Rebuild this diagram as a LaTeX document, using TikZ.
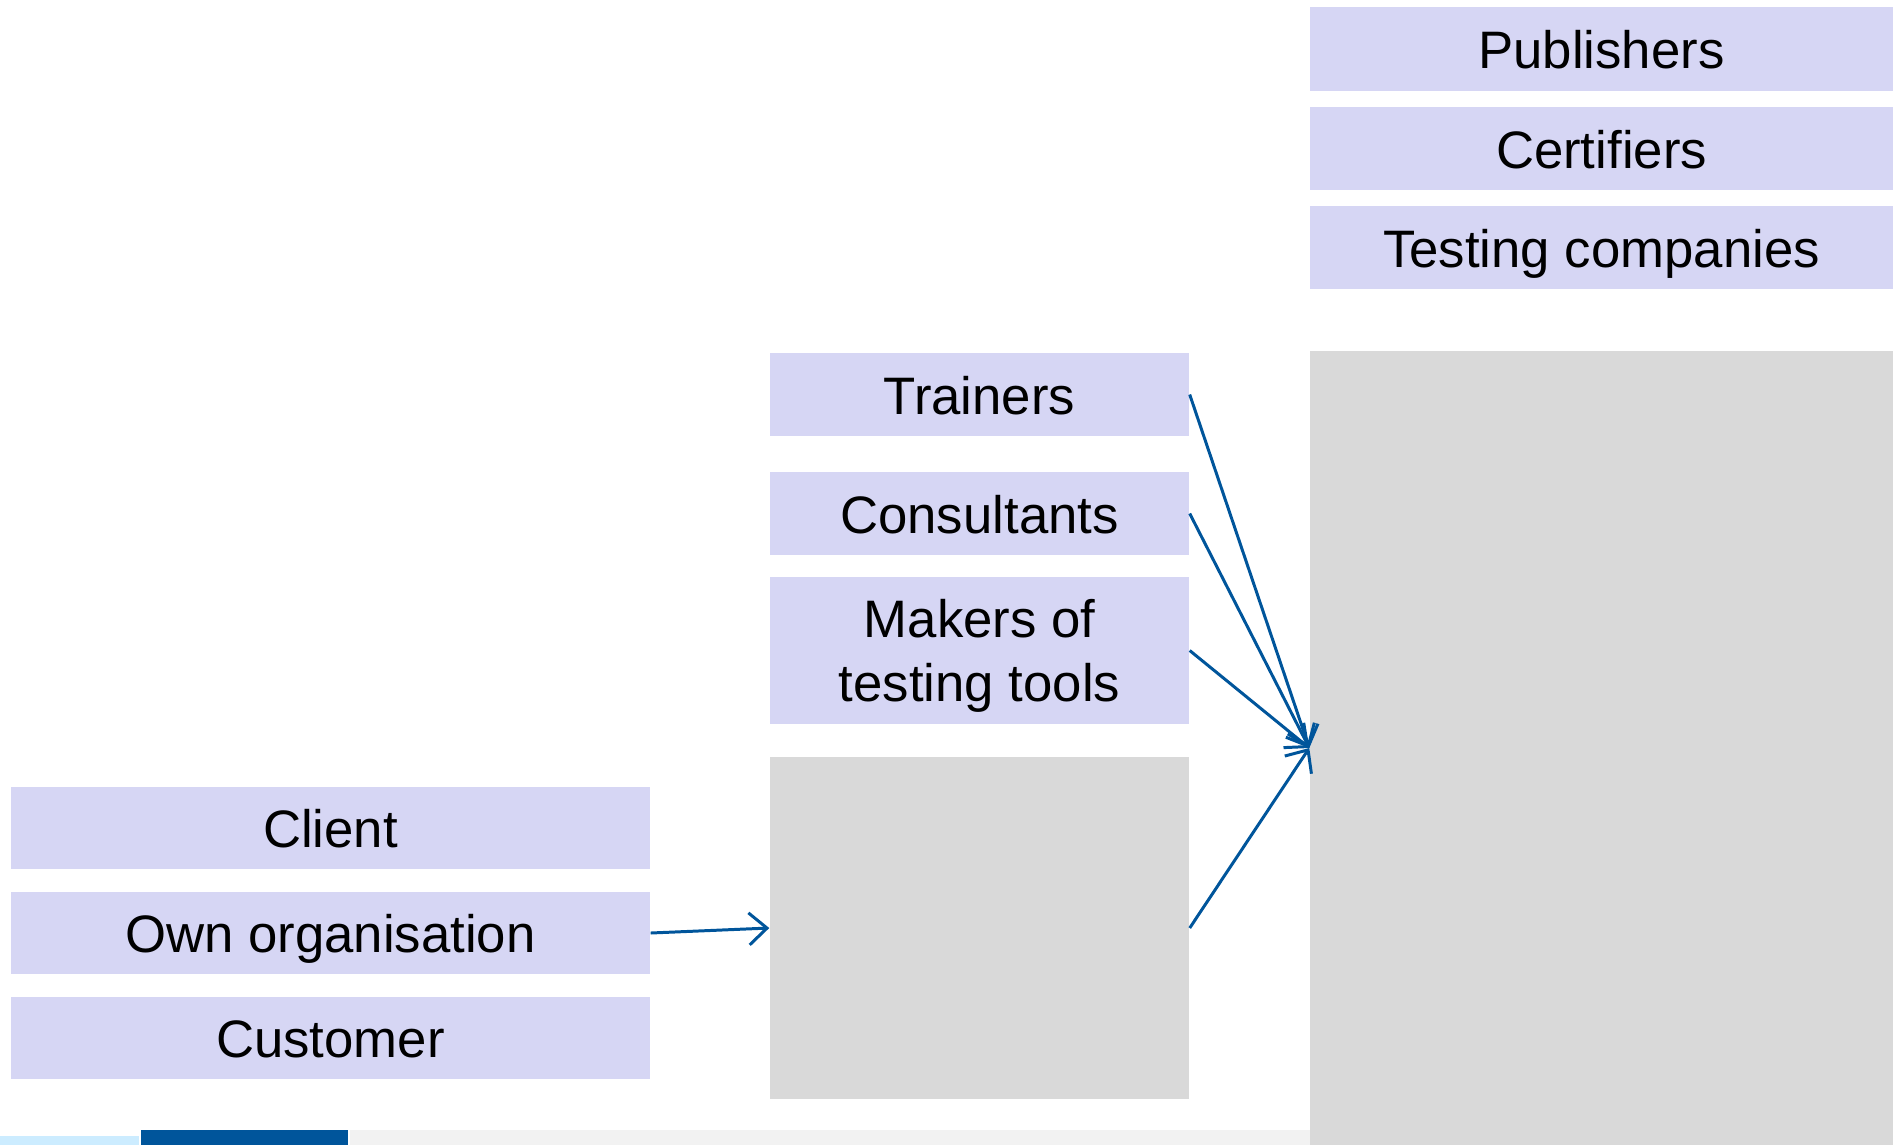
\documentclass[tikz,border=0pt]{standalone}
\usepackage{fontspec}
\setmainfont{Liberation Sans}
\usepackage{xcolor}
\usetikzlibrary{arrows.meta, positioning, calc}

\definecolor{lavbox}{HTML}{D6D6F4}
\definecolor{greybox}{HTML}{D9D9D9}
\definecolor{linkblue}{HTML}{00559B}
\definecolor{stripblue}{HTML}{CCECFF}
\definecolor{stripgrey}{HTML}{F2F2F2}

\tikzset{
  actor/.style={rectangle, fill=lavbox, inner sep=0pt, align=center,
    font=\fontsize{15}{18}\selectfont},
  oneline/.style={actor, text height=0.39cm, text depth=0pt},
  area/.style={rectangle, fill=greybox, inner sep=0pt},
  link/.style={->, draw=linkblue, line width=0.85pt}
}

\begin{document}
\begin{tikzpicture}[>={Straight Barb[length=1.8mm, width=3.2mm]}]
  \useasboundingbox (0,0) rectangle (18.93,-11.45);
  % top right group
  \node[oneline, minimum width=5.83cm, minimum height=0.84cm] (pub) at (16.015,-0.49) {Publishers};
  \node[oneline, minimum width=5.83cm, minimum height=0.83cm] (cert) at (16.015,-1.485) {Certifiers};
  \node[oneline, minimum width=5.83cm, minimum height=0.83cm] (testco) at (16.015,-2.475) {Testing companies};
  \node[area, minimum width=5.83cm, minimum height=7.94cm] (bigarea) at (16.015,-7.48) {};
  % middle column
  \node[oneline, minimum width=4.19cm, minimum height=0.83cm] (trainers) at (9.795,-3.945) {Trainers};
  \node[oneline, minimum width=4.19cm, minimum height=0.83cm] (consult) at (9.795,-5.135) {Consultants};
  \node[actor, text depth=0pt, minimum width=4.19cm, minimum height=1.47cm] (makers) at (9.795,-6.505) {Makers of\\testing tools};
  \node[area, minimum width=4.19cm, minimum height=3.42cm] (midarea) at (9.795,-9.28) {};
  % left column
  \node[oneline, minimum width=6.39cm, minimum height=0.82cm] (client) at (3.305,-8.28) {Client};
  \node[oneline, minimum width=6.39cm, minimum height=0.82cm] (ownorg) at (3.305,-9.33) {Own organisation};
  \node[oneline, minimum width=6.39cm, minimum height=0.82cm] (customer) at (3.305,-10.38) {Customer};

  \draw[link] (ownorg.east) -- (midarea.west);
  \foreach \src in {trainers, consult, makers, midarea}
    \draw[link] (\src.east) -- (bigarea.west);

  % footer strip
  \fill[stripblue] (0,-11.36) rectangle (1.39,-11.45);
  \fill[linkblue] (1.41,-11.30) rectangle (3.48,-11.45);
  \fill[stripgrey] (3.50,-11.30) rectangle (13.10,-11.45);
\end{tikzpicture}
\end{document}
